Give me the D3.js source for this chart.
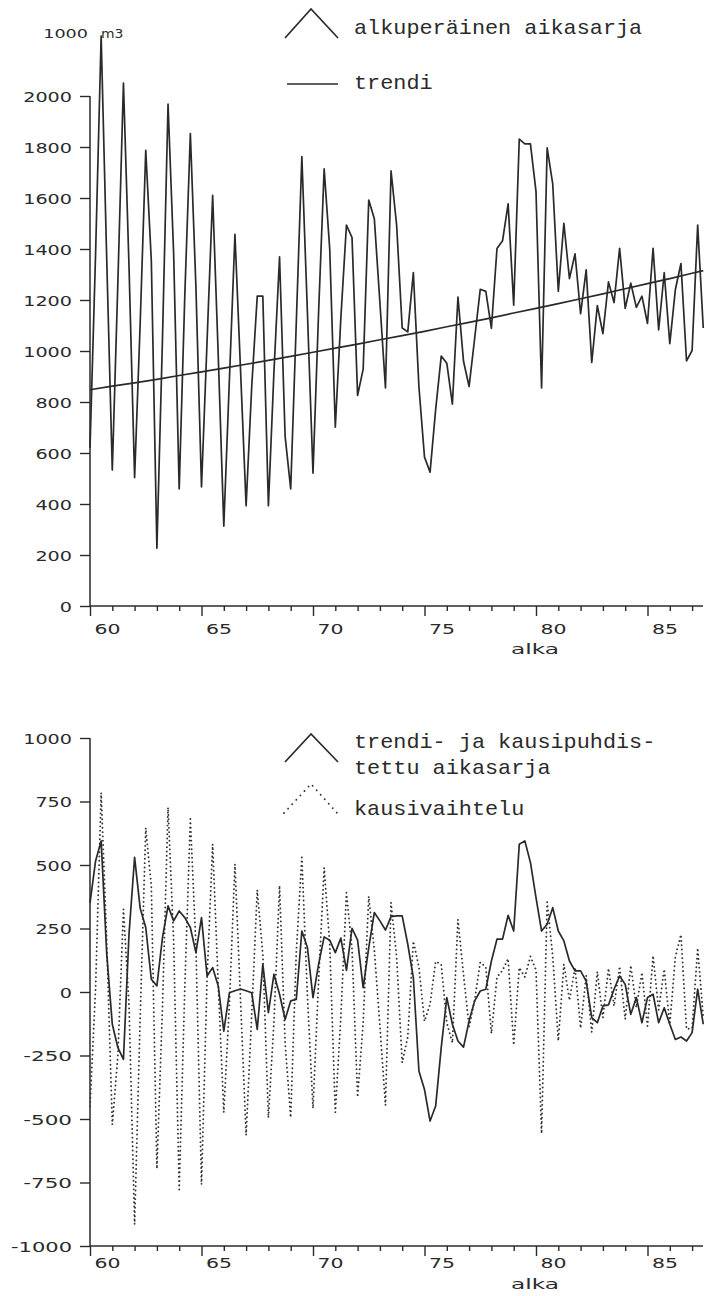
<!DOCTYPE html>
<html><head><meta charset="utf-8">
<script src="https://cdn.jsdelivr.net/npm/d3@7"></script>
<style>
html,body{margin:0;padding:0;background:#fff;}
svg{display:block;}
</style></head><body>
<svg id="chart" width="705" height="1296"></svg>
<script>
// ---- data (quarterly, first point = 1960 Q1 at year 60.0) ----
const firstYear = 60;
const quartersPerYear = 4;

const original = [
  620, 1380, 2235, 1360,
  533, 1270, 2051, 1330,
  503, 1108, 1787, 1354,
  227, 1048, 1968, 1384,
  459, 1215, 1853, 1250,
  467, 1039, 1610, 983,
  313, 885, 1457, 926,
  393, 857, 1215, 1215,
  393, 921, 1369, 665,
  459, 1110, 1762, 1150,
  521, 1150, 1714, 1400,
  701, 1131, 1494, 1445,
  826, 929, 1592, 1519,
  1190, 855, 1706, 1494,
  1090, 1075, 1307, 860,
  584, 525, 770, 980,
  952, 792, 1211, 960,
  861, 1050, 1242, 1234,
  1089, 1402, 1432, 1577,
  1180, 1831, 1812, 1812,
  1626, 855, 1797, 1655,
  1234, 1501, 1284, 1381,
  1146, 1318, 955, 1178,
  1068, 1271, 1190, 1403,
  1167, 1266, 1171, 1215,
  1108, 1403, 1083, 1307,
  1029, 1241, 1343, 961,
  1002, 1494, 1090
];

const trendYears  = [60, 61, 62, 63, 64, 65, 66, 67, 68, 69, 70, 71, 72, 73, 74, 75, 76, 77, 78, 79, 80, 81, 82, 83, 84, 85, 86, 87, 87.5];
const trendValues = [848, 862, 875, 889, 904, 918, 933, 948, 963, 979, 995, 1011, 1027, 1044, 1060, 1077, 1095, 1112, 1130, 1149, 1167, 1186, 1205, 1224, 1244, 1264, 1284, 1305, 1315];

const residual = [
  350, 516, 595, 150,
  -127, -219, -265, 229,
  530, 330, 254, 50,
  24, 214, 339, 280,
  319, 293, 254, 155,
  293, 63, 96, 24,
  -154, -3, 5, 12,
  5, -3, -147, 109,
  -81, 70, -9, -108,
  -35, -29, 240, 175,
  -22, 109, 217, 204,
  155, 212, 85, 251,
  204, 17, 175, 313,
  280, 244, 297, 300,
  300, 188, 57, -311,
  -384, -508, -449, -219,
  -22, -127, -193, -217,
  -114, -35, 4, 11,
  122, 208, 208, 302,
  240, 582, 595, 510,
  372, 240, 267, 332,
  240, 201, 122, 83,
  83, 43, -101, -121,
  -55, -51, 11, 63,
  30, -88, -22, -121,
  -22, -9, -121, -62,
  -127, -187, -177, -193,
  -160, 11, -127
];

const seasonal = [
  -450, 13, 785, 200,
  -522, -250, 326, -50,
  -915, -101, 646, 418,
  -696, -59, 727, 204,
  -778, 15, 681, 181,
  -758, 54, 582, 30,
  -474, -49, 504, -30,
  -564, -92, 402, 147,
  -495, -116, 419, -202,
  -494, 156, 530, -16,
  -458, 42, 489, 189,
  -474, -96, 391, 171,
  -414, -119, 377, 166,
  -134, -446, 352, 138,
  -278, -177, 200, 98,
  -115, -48, 120, 109,
  -121, -200, 285, 69,
  -137, -31, 117, 98,
  -163, 59, 85, 131,
  -209, 96, 59, 140,
  87, -557, 354, 142,
  -192, 109, -33, 98,
  -142, 65, -158, 80,
  -101, 93, -55, 101,
  -107, 105, -61, 77,
  -134, 143, -70, 90,
  -128, 139, 226, -146,
  -143, 173, -98
];

const topYTicks = [0, 200, 400, 600, 800, 1000, 1200, 1400, 1600, 1800, 2000];
const topYTickLabels = ["0", "200", "400", "600", "800", "1000", "1200", "1400", "1600", "1800", "2000"];
const bottomYTicks = [-1000, -750, -500, -250, 0, 250, 500, 750, 1000];
const bottomYTickLabels = ["-1000", "-750", "-500", "-250", "0", "250", "500", "750", "1000"];
const xMajorTicks = [60, 65, 70, 75, 80, 85];
const xTickLabels = ["60", "65", "70", "75", "80", "85"];
const xMinorTicks = [61, 62, 63, 64, 66, 67, 68, 69, 71, 72, 73, 74, 76, 77, 78, 79, 81, 82, 83, 84, 86, 87];
const xAxisTitle = "alka";
const unitLabel = ["1000", "m3"];
const topLegend = ["alkuperäinen aikasarja", "trendi"];
const bottomLegend = ["trendi- ja kausipuhdis-", "tettu aikasarja", "kausivaihtelu"];

// ---- drawing ----
const INK = "#2a2a2a";
const PLOT_FONT = "'DejaVu Sans', sans-serif";
const MONO_FONT = "'Liberation Mono', 'DejaVu Sans Mono', monospace";
const svg = d3.select("#chart");

const x = d3.scaleLinear().domain([60, 87.5]).range([90, 703.25]);
const tOf = i => firstYear + i / quartersPerYear;

function stretchText(sel, perChar) {
  sel.attr("textLength", function () { return this.textContent.length * perChar; })
     .attr("lengthAdjust", "spacingAndGlyphs");
}

function drawFrame(y, yTicks, yLabels, axisY, labelOffset, titleY) {
  // y axis
  const ya = svg.append("g").attr("transform", "translate(90,0)")
    .call(d3.axisLeft(y).tickValues(yTicks).tickSize(10).tickSizeOuter(0).tickPadding(8)
      .tickFormat((d, i) => yLabels[i]));
  ya.select(".domain").remove();
  ya.selectAll(".tick line").attr("stroke", INK).attr("stroke-width", 1.4);
  ya.selectAll(".tick text")
    .attr("font-family", PLOT_FONT).attr("font-size", 14).attr("fill", INK)
    .attr("x", -18).attr("dy", "0.36em")
    .call(stretchText, 12.2);
  const [y0, y1] = y.range();
  svg.append("line").attr("x1", 90).attr("x2", 90).attr("y1", y1).attr("y2", y0)
    .attr("stroke", INK).attr("stroke-width", 1.5);

  // x axis: minor ticks
  const xmin = svg.append("g").attr("transform", `translate(0,${axisY})`)
    .call(d3.axisBottom(x).tickValues(xMinorTicks).tickSize(5).tickSizeOuter(0).tickFormat(""));
  xmin.select(".domain").remove();
  xmin.selectAll(".tick line").attr("stroke", INK).attr("stroke-width", 1.4);
  // major ticks + labels
  const xmaj = svg.append("g").attr("transform", `translate(0,${axisY})`)
    .call(d3.axisBottom(x).tickValues(xMajorTicks).tickSize(10).tickSizeOuter(0)
      .tickFormat((d, i) => xTickLabels[i]));
  xmaj.select(".domain").remove();
  xmaj.selectAll(".tick line").attr("stroke", INK).attr("stroke-width", 1.4);
  xmaj.selectAll(".tick text")
    .attr("font-family", PLOT_FONT).attr("font-size", 14).attr("fill", INK)
    .attr("text-anchor", "start").attr("x", 4).attr("y", labelOffset).attr("dy", 0)
    .call(stretchText, 13);
  svg.append("line").attr("x1", 90).attr("x2", 703).attr("y1", axisY).attr("y2", axisY)
    .attr("stroke", INK).attr("stroke-width", 1.5);

  svg.append("text").attr("x", 511).attr("y", titleY).text(xAxisTitle)
    .attr("font-family", PLOT_FONT).attr("font-size", 14).attr("fill", INK)
    .call(stretchText, 12);
}

// ===== top chart =====
const yTop = d3.scaleLinear().domain([0, 2000]).range([606, 96]);
drawFrame(yTop, topYTicks, topYTickLabels, 606, 28, 654);

svg.append("text").attr("x", 88).attr("y", 38).attr("text-anchor", "end").text(unitLabel[0])
  .attr("font-family", PLOT_FONT).attr("font-size", 13).attr("fill", INK).call(stretchText, 11.2);
svg.append("text").attr("x", 101).attr("y", 38).text(unitLabel[1])
  .attr("font-family", PLOT_FONT).attr("font-size", 13).attr("fill", INK).call(stretchText, 11.2);

const lineTop = d3.line().x((d, i) => x(tOf(i))).y(d => yTop(d));
svg.append("path").datum(original).attr("d", lineTop)
  .attr("fill", "none").attr("stroke", INK).attr("stroke-width", 1.7).attr("stroke-linejoin", "round");

const trendLine = d3.line().x(d => x(d[0])).y(d => yTop(d[1]));
svg.append("path").datum(d3.zip(trendYears, trendValues)).attr("d", trendLine)
  .attr("fill", "none").attr("stroke", INK).attr("stroke-width", 1.7);

// top legend
svg.append("path").attr("d", "M285,38 L311,9 L338,38")
  .attr("fill", "none").attr("stroke", INK).attr("stroke-width", 1.7);
svg.append("text").attr("x", 354).attr("y", 34).text(topLegend[0])
  .attr("font-family", MONO_FONT).attr("font-size", 21).attr("fill", INK).call(stretchText, 13.1);
svg.append("line").attr("x1", 287).attr("x2", 338).attr("y1", 84).attr("y2", 84)
  .attr("stroke", INK).attr("stroke-width", 1.7);
svg.append("text").attr("x", 354).attr("y", 89).text(topLegend[1])
  .attr("font-family", MONO_FONT).attr("font-size", 21).attr("fill", INK).call(stretchText, 13.1);

// ===== bottom chart =====
const yBot = d3.scaleLinear().domain([-1000, 1000]).range([1246, 738]);
drawFrame(yBot, bottomYTicks, bottomYTickLabels, 1246, 22, 1289);

const lineBot = d3.line().x((d, i) => x(tOf(i))).y(d => yBot(d));
svg.append("path").datum(seasonal).attr("d", lineBot)
  .attr("fill", "none").attr("stroke", "#333").attr("stroke-width", 1.9)
  .attr("stroke-dasharray", "0.01 4.3").attr("stroke-linecap", "round");
svg.append("path").datum(residual).attr("d", lineBot)
  .attr("fill", "none").attr("stroke", INK).attr("stroke-width", 1.7).attr("stroke-linejoin", "round");

// bottom legend
svg.append("path").attr("d", "M285,762 L311,734 L338,762")
  .attr("fill", "none").attr("stroke", INK).attr("stroke-width", 1.7);
svg.append("text").attr("x", 354).attr("y", 748).text(bottomLegend[0])
  .attr("font-family", MONO_FONT).attr("font-size", 21).attr("fill", INK).call(stretchText, 13.1);
svg.append("text").attr("x", 354).attr("y", 774).text(bottomLegend[1])
  .attr("font-family", MONO_FONT).attr("font-size", 21).attr("fill", INK).call(stretchText, 13.1);
svg.append("path").attr("d", "M284,813 L311,784 L338,814")
  .attr("fill", "none").attr("stroke", "#333").attr("stroke-width", 1.9)
  .attr("stroke-dasharray", "0.01 6").attr("stroke-linecap", "round");
svg.append("text").attr("x", 354).attr("y", 815).text(bottomLegend[2])
  .attr("font-family", MONO_FONT).attr("font-size", 21).attr("fill", INK).call(stretchText, 13.1);
</script>
</body></html>
